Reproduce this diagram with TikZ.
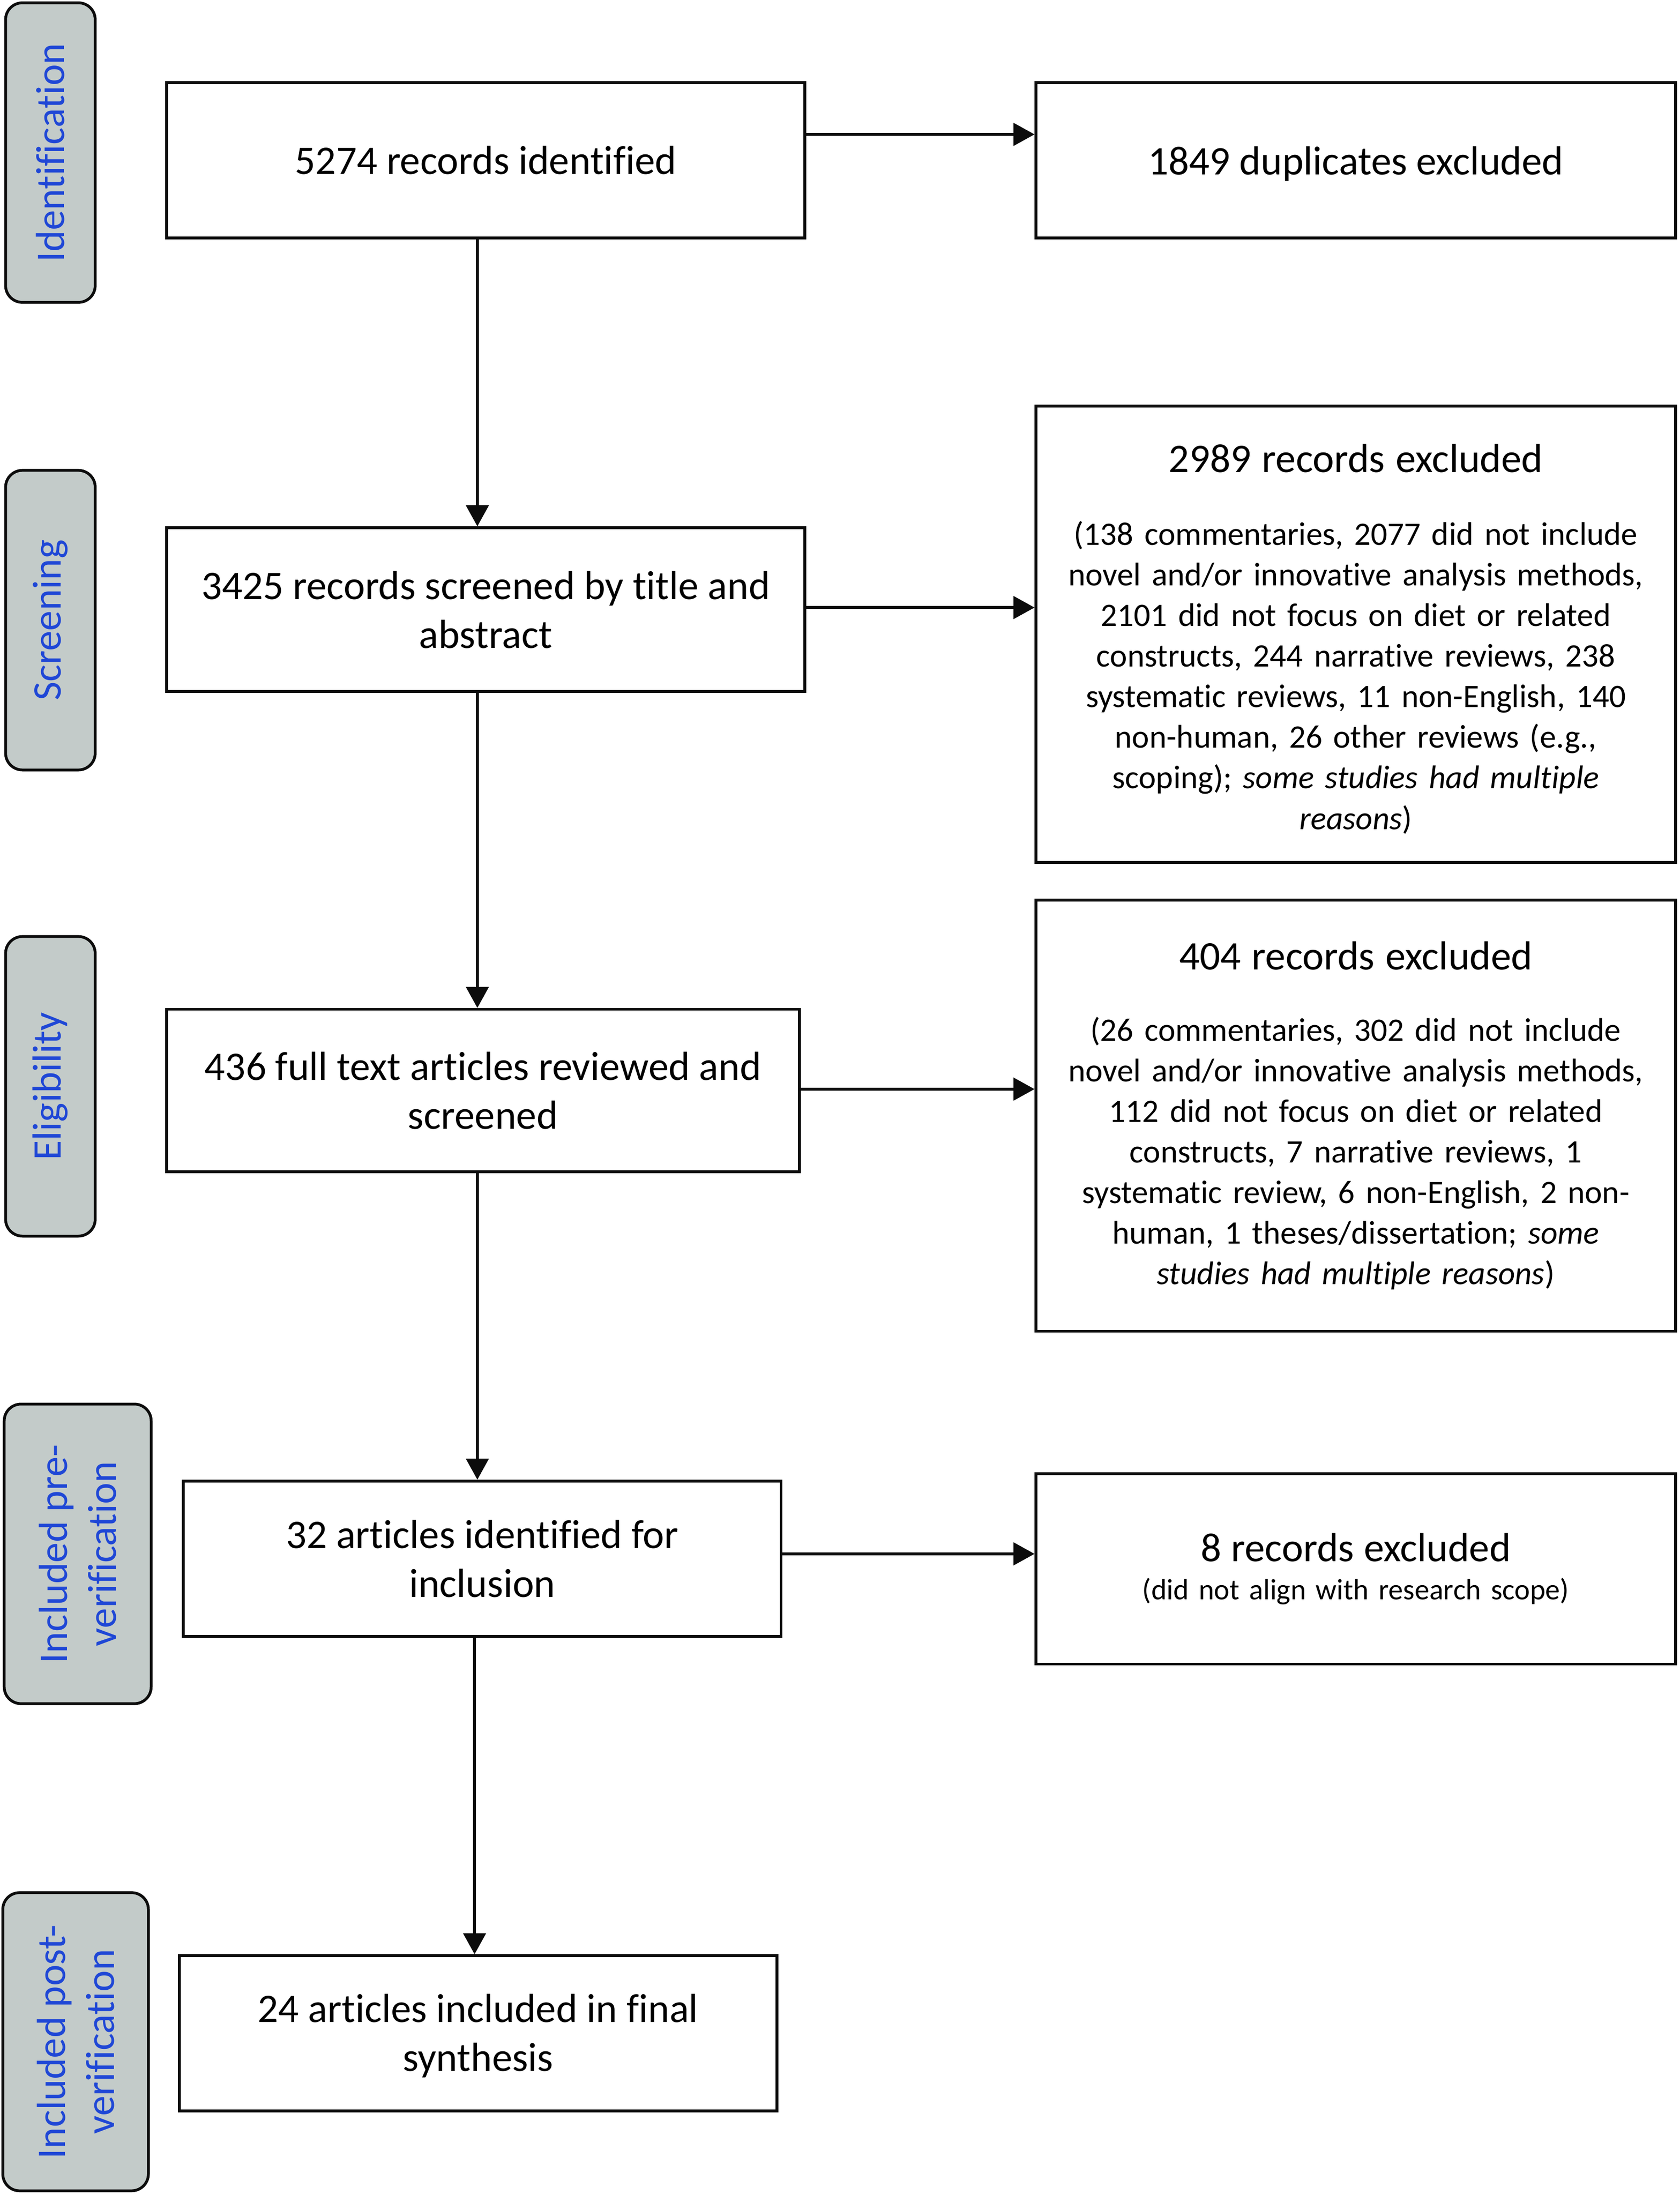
\documentclass[tikz,border=0pt]{standalone}
\usepackage{fontspec}
\setmainfont{Carlito}[Ligatures={NoCommon,NoRare}]
\usetikzlibrary{arrows.meta}
\definecolor{lblue}{RGB}{31,71,214}
\definecolor{lgray}{RGB}{195,203,201}
\definecolor{lineblk}{RGB}{12,12,12}
\begin{document}
\begin{tikzpicture}[x=1pt,y=1pt,
  box/.style={draw=lineblk, line width=2pt, rectangle, inner sep=0pt, align=center,
    font=\fontsize{29}{35}\selectfont},
  exbox/.style={draw=lineblk, line width=2pt, rectangle, inner sep=0pt, text width=445pt,
    align=center, font=\fontsize{23.4}{29}\selectfont},
  phase/.style={draw=lineblk, line width=2pt, fill=lgray, rounded corners=12pt, rotate=90,
    text=lblue, align=center, inner sep=0pt, font=\fontsize{29}{35}\selectfont},
  arr/.style={draw=lineblk, line width=2pt, -{Triangle[length=15pt,width=16pt]}}]
\useasboundingbox (0,0) rectangle (1200,-1568);

% phase labels
\node[phase, minimum width=214pt, minimum height=64pt] (L1) at (36,-109) {Identification};
\node[phase, minimum width=214pt, minimum height=64pt] (L2) at (36,-443) {Screening};
\node[phase, minimum width=214pt, minimum height=64pt] (L3) at (36,-776) {Eligibility};
\node[phase, minimum width=214pt, minimum height=105pt] (L4) at (55.5,-1110) {Included pre-\\verification};
\node[phase, minimum width=213pt, minimum height=104pt] (L5) at (54,-1458.5) {Included post-\\verification};

% main boxes
\node[box, minimum width=456pt, minimum height=111pt] (A) at (347,-114.5) {5274 records identified};
\node[box, minimum width=457pt, minimum height=111pt] (B) at (968.5,-114.5) {\rule{0pt}{25pt}1849 duplicates excluded};
\node[box, minimum width=456pt, minimum height=117pt] (C) at (347,-435.5) {3425 records screened by title and\\abstract};
\node[exbox, minimum width=457pt, minimum height=326pt] (D) at (968.5,-453)
  {{\fontsize{29}{35}\selectfont\rule{0pt}{27pt}2989 records excluded}\\[23pt]
   (138 commentaries, 2077 did not include\\
   novel and/or innovative analysis methods,\\
   2101 did not focus on diet or related\\
   constructs, 244 narrative reviews, 238\\
   systematic reviews, 11 non-English, 140\\
   non-human, 26 other reviews (e.g.,\\
   scoping); \textit{some studies had multiple}\\
   \textit{reasons})};
\node[box, minimum width=452pt, minimum height=116pt] (E) at (345,-779) {436 full text articles reviewed and\\screened};
\node[exbox, minimum width=457pt, minimum height=308pt] (F) at (968.5,-797)
  {{\fontsize{29}{35}\selectfont 404 records excluded}\\[22pt]
   (26 commentaries, 302 did not include\\
   novel and/or innovative analysis methods,\\
   112 did not focus on diet or related\\
   constructs, 7 narrative reviews, 1\\
   systematic review, 6 non-English, 2 non-\\
   human, 1 theses/dissertation; \textit{some}\\
   \textit{studies had multiple reasons})};
\node[box, minimum width=427pt, minimum height=111pt] (G) at (344.5,-1113.5) {32 articles identified for\\inclusion};
\node[exbox, minimum width=457pt, minimum height=136pt, font=\fontsize{21}{27}\selectfont] (H) at (968.5,-1120.75)
  {{\fontsize{29}{35}\selectfont 8 records excluded}\\
   (did not align with research scope)};
\node[box, minimum width=427pt, minimum height=111pt] (I) at (341.5,-1452.5) {\rule{0pt}{24pt}24 articles included in final\\synthesis};

% connector start points
\path ([yshift=18.5pt]A.east) coordinate (ab);
\path ([yshift=1.5pt]C.east) coordinate (cd);
\path ([yshift=1pt]E.east) coordinate (ef);
\path ([yshift=3.5pt]G.east) coordinate (gh);
\path ([xshift=-6pt]A.south) coordinate (ac);
\path ([xshift=-6pt]C.south) coordinate (ce);
\path ([xshift=-4pt]E.south) coordinate (eg);
\path ([xshift=-5.5pt]G.south) coordinate (gi);

% connectors
\draw[arr] (ab) -- (ab -| B.west);
\draw[arr] (cd) -- (cd -| D.west);
\draw[arr] (ef) -- (ef -| F.west);
\draw[arr] (gh) -- (gh -| H.west);
\draw[arr] (ac) -- (ac |- C.north);
\draw[arr] (ce) -- (ce |- E.north);
\draw[arr] (eg) -- (eg |- G.north);
\draw[arr] (gi) -- (gi |- I.north);
\end{tikzpicture}
\end{document}
